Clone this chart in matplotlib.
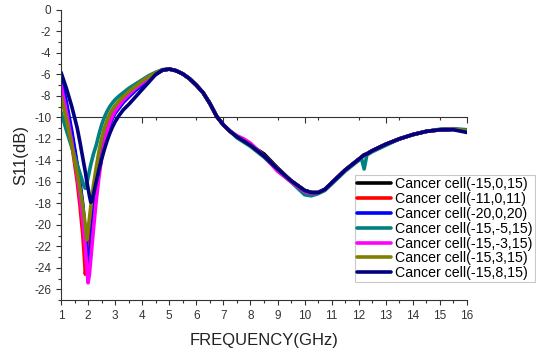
import matplotlib
matplotlib.use("Agg")
import matplotlib.pyplot as plt
from matplotlib.ticker import MultipleLocator

plt.rcParams['font.family'] = ['Liberation Sans', 'DejaVu Sans']
plt.rcParams['axes.unicode_minus'] = False

freq = [1.0, 1.2, 1.4, 1.6, 1.7, 1.8, 1.85, 1.9, 1.95, 2.0, 2.05, 2.1, 2.15, 2.2,
        2.3, 2.4, 2.5, 2.6, 2.7, 2.8, 2.9, 3.0, 3.15, 3.3, 3.5, 3.75,
        4.0, 4.25, 4.5, 4.75, 5.0, 5.25, 5.5, 5.75, 6.0, 6.25, 6.5, 6.75, 7.0, 7.25, 7.5, 7.75, 8.0,
        8.5, 9.0, 9.5, 10.0, 10.25, 10.5, 10.75, 11.0, 11.5, 12.0, 12.1, 12.2, 12.3, 12.5,
        13.0, 13.5, 14.0, 14.5, 15.0, 15.5, 16.0]

s_black = [-6.5, -8.9, -11.6, -14.6, -16.3, -18.3, -19.5, -20.9, -22.4, -21.4, -20.2, -19.1, -18.0, -17.0,
           -15.3, -13.9, -12.8, -11.9, -11.1, -10.4, -9.85, -9.4, -8.9, -8.4, -7.9, -7.3,
           -6.8, -6.3, -5.9, -5.6, -5.5, -5.65, -5.95, -6.4, -7.0, -7.7, -8.7, -9.9, -10.7, -11.3, -11.8, -12.2, -12.6,
           -13.4, -14.7, -15.9, -16.8, -17.0, -17.0, -16.7, -16.1, -14.9, -13.9, -13.7, -13.5, -13.4, -13.1,
           -12.5, -12.0, -11.6, -11.3, -11.15, -11.1, -11.3]
s_red = [-6.8, -9.4, -12.5, -16.0, -18.2, -20.8, -22.6, -24.6, -23.5, -22.0, -20.6, -19.3, -18.1, -17.0,
         -15.2, -13.8, -12.7, -11.8, -11.0, -10.4, -9.85, -9.4, -8.9, -8.4, -7.9, -7.3,
         -6.8, -6.3, -5.9, -5.6, -5.5, -5.65, -5.95, -6.4, -7.0, -7.7, -8.7, -9.9, -10.7, -11.3, -11.8, -12.2, -12.6,
         -13.6, -14.8, -15.9, -16.8, -17.0, -17.0, -16.7, -16.1, -14.9, -13.9, -13.7, -13.5, -13.4, -13.1,
         -12.5, -12.0, -11.6, -11.3, -11.15, -11.1, -11.3]
s_blue = [-6.2, -8.6, -11.3, -14.4, -16.1, -18.0, -19.4, -20.8, -22.5, -24.3, -23.2, -21.8, -20.4, -19.1,
          -16.9, -15.1, -13.6, -12.4, -11.4, -10.7, -10.1, -9.6, -9.1, -8.6, -8.1, -7.5,
          -7.0, -6.45, -6.0, -5.6, -5.5, -5.65, -5.95, -6.4, -7.0, -7.7, -8.7, -9.9, -10.7, -11.3, -11.8, -12.2, -12.6,
          -13.6, -14.8, -15.9, -16.8, -17.0, -17.0, -16.7, -16.1, -14.9, -13.9, -13.7, -13.5, -13.4, -13.1,
          -12.5, -12.0, -11.6, -11.3, -11.15, -11.1, -11.3]
s_teal = [-9.5, -11.2, -12.8, -14.4, -15.2, -16.0, -16.4, -16.6, -16.2, -15.6, -15.0, -14.4, -13.9, -13.4,
          -12.6, -11.6, -10.7, -10.0, -9.45, -9.0, -8.65, -8.35, -8.0, -7.7, -7.3, -6.9,
          -6.5, -6.1, -5.8, -5.55, -5.5, -5.65, -5.95, -6.4, -7.0, -7.7, -8.7, -9.9, -10.7, -11.3, -11.9, -12.3, -12.7,
          -13.7, -14.9, -16.0, -17.2, -17.3, -17.1, -16.8, -16.2, -15.0, -14.0, -13.8, -14.8, -13.5, -13.2,
          -12.6, -12.0, -11.6, -11.3, -11.1, -11.05, -11.15]
s_magenta = [-7.0, -9.5, -12.3, -15.5, -17.3, -19.5, -20.8, -22.2, -23.8, -25.4, -24.6, -23.2, -21.8, -20.4,
             -17.8, -15.6, -13.8, -12.4, -11.3, -10.5, -9.9, -9.4, -8.9, -8.4, -7.9, -7.3,
             -6.8, -6.3, -5.9, -5.6, -5.5, -5.65, -5.95, -6.4, -7.0, -7.7, -8.7, -9.9, -10.7, -11.3, -11.7, -12.0, -12.4,
             -13.6, -15.0, -16.0, -16.9, -17.1, -17.0, -16.7, -16.1, -14.9, -13.9, -13.7, -13.5, -13.4, -13.1,
             -12.5, -12.0, -11.6, -11.3, -11.15, -11.1, -11.3]
s_olive = [-8.0, -10.2, -12.6, -15.2, -16.6, -18.2, -19.1, -20.2, -21.4, -20.5, -19.4, -18.3, -17.3, -16.3,
           -14.7, -13.2, -12.0, -11.0, -10.3, -9.7, -9.25, -8.9, -8.45, -8.05, -7.6, -7.1,
           -6.6, -6.2, -5.85, -5.58, -5.5, -5.65, -5.95, -6.4, -7.0, -7.7, -8.7, -9.9, -10.7, -11.3, -11.8, -12.2, -12.6,
           -13.6, -14.8, -15.9, -16.8, -17.0, -17.0, -16.7, -16.1, -14.9, -13.9, -13.7, -13.5, -13.4, -13.1,
           -12.5, -12.0, -11.6, -11.3, -11.15, -11.1, -11.25]
s_navy = [-5.8, -7.3, -9.0, -11.0, -12.3, -13.7, -14.4, -15.1, -15.9, -16.6, -17.3, -17.9, -17.8, -17.2,
          -16.0, -14.9, -13.9, -13.0, -12.2, -11.5, -10.9, -10.4, -9.8, -9.3, -8.8, -8.1,
          -7.4, -6.7, -6.0, -5.6, -5.5, -5.65, -5.95, -6.4, -7.0, -7.7, -8.7, -9.9, -10.7, -11.3, -11.8, -12.2, -12.6,
          -13.6, -14.8, -15.9, -16.8, -17.0, -17.0, -16.7, -16.1, -14.9, -13.9, -13.7, -13.5, -13.4, -13.1,
          -12.5, -12.0, -11.6, -11.3, -11.15, -11.15, -11.4]

labels = ["Cancer cell(-15,0,15)", "Cancer cell(-11,0,11)", "Cancer cell(-20,0,20)",
          "Cancer cell(-15,-5,15)", "Cancer cell(-15,-3,15)", "Cancer cell(-15,3,15)",
          "Cancer cell(-15,8,15)"]
series = [s_black, s_red, s_blue, s_teal, s_magenta, s_olive, s_navy]
colors = ["#000000", "#ff0000", "#0000ff", "#008080", "#ff00ff", "#808000", "#000080"]

fig = plt.figure(figsize=(5.36, 3.52), dpi=100)
ax = fig.add_axes([61/536, 1-300/352, 406/536, 290/352])

for vals, c, lab in zip(series, colors, labels):
    ax.plot(freq, vals, color=c, lw=2.6, label=lab, solid_capstyle='round',
            solid_joinstyle='round')

ax.set_xlim(1, 16)
ax.set_ylim(-27, 0)
ax.xaxis.set_major_locator(MultipleLocator(1))
ax.xaxis.set_minor_locator(MultipleLocator(0.5))
ax.yaxis.set_minor_locator(MultipleLocator(1))
ax.set_yticks(list(range(0, -27, -2)))
ax.spines['top'].set_visible(False)
ax.spines['right'].set_visible(False)
for sp in ['left', 'bottom']:
    ax.spines[sp].set_linewidth(0.8)
    ax.spines[sp].set_color('#333333')
ax.tick_params(which='major', direction='out', length=3.5, width=0.8, labelsize=8.5,
               colors='#333333')
ax.tick_params(which='minor', direction='out', length=2, width=0.8, colors='#333333')

sec = ax.secondary_xaxis(17/27)
sec.set_xticks([1, 4, 7, 10, 13, 16])
sec.xaxis.set_minor_locator(MultipleLocator(1.5))
sec.tick_params(which='major', direction='in', length=4.5, width=0.8, labeltop=False,
                labelbottom=False, colors='#333333')
sec.tick_params(which='minor', direction='in', length=2.5, width=0.8, colors='#333333')
sec.spines['top'].set_linewidth(0.8)
sec.spines['top'].set_color('#333333')
sec.spines['bottom'].set_visible(False)

ax.set_xlabel("FREQUENCY(GHz)", fontsize=12, color='#222222', labelpad=8)
ax.set_ylabel("S11(dB)", fontsize=12, color='#222222', labelpad=4)

leg = fig.legend(loc='upper left', bbox_to_anchor=(355/536, 1-175/352), fontsize=10.2,
                 frameon=True, fancybox=False, borderpad=0.15, labelspacing=0.06,
                 handlelength=2.4, handletextpad=0.3, borderaxespad=0)
leg.get_frame().set_edgecolor('#bbbbbb')
leg.get_frame().set_linewidth(0.8)
for line in leg.get_lines():
    line.set_linewidth(2.6)

fig.savefig("out.png", dpi=100)
